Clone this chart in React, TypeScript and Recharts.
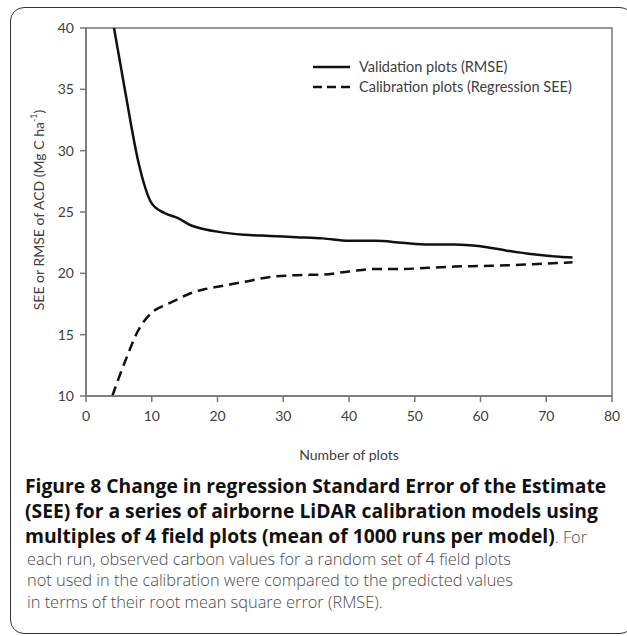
import React from "react";
import { LineChart, Line, XAxis, YAxis, ReferenceArea, Legend } from "recharts";

const plotCounts = [4, 6, 8, 10, 12, 14, 16, 18, 20, 24, 28, 32, 36, 40, 44, 48, 52, 56, 60, 64, 68, 72, 74];
const validationRMSE = [40.8, 34.7, 29.0, 25.7, 24.9, 24.5, 23.9, 23.6, 23.4, 23.15, 23.05, 22.95, 22.85, 22.65, 22.65, 22.5, 22.35, 22.35, 22.2, 21.85, 21.55, 21.35, 21.3];
const calibrationSEE = [10.0, 12.9, 15.4, 16.8, 17.4, 17.9, 18.4, 18.7, 18.9, 19.3, 19.7, 19.85, 19.9, 20.15, 20.35, 20.35, 20.45, 20.55, 20.6, 20.65, 20.75, 20.85, 20.9];
const xTicks = [0, 10, 20, 30, 40, 50, 60, 70, 80];
const yTicks = [10, 15, 20, 25, 30, 35, 40];
const seriesNames = ["Validation plots (RMSE)", "Calibration plots (Regression SEE)"];

const data = plotCounts.map((x, i) => ({ x, validation: validationRMSE[i], calibration: calibrationSEE[i] }));

const FONT = "Lato, 'Open Sans', sans-serif";
const TEXT = "#404040";

const YLabel = (props: any) => {
  const vb = props.viewBox || {};
  const cx = (vb.x ?? 0) + 38;
  const cy = (vb.y ?? 0) + (vb.height ?? 0) / 2 - 2;
  return (
    <text x={cx} y={cy} transform={`rotate(-90 ${cx} ${cy})`} textAnchor="middle" dominantBaseline="central" fontFamily={FONT} fontSize={14} fill={TEXT}>
      SEE or RMSE of ACD (Mg C ha<tspan fontSize={9} dy={-5}>-1</tspan><tspan dy={5}>)</tspan>
    </text>
  );
};

const LegendContent = () => (
  <div style={{ fontFamily: FONT, fontSize: 14.5, color: TEXT, lineHeight: "20px" }}>
    {seriesNames.map((n, i) => (
      <div key={n} style={{ display: "flex", alignItems: "center", height: 20 }}>
        <svg width={38} height={10} style={{ marginRight: 8 }}>
          <line x1={0} y1={5} x2={37} y2={5} stroke="#111" strokeWidth={2.5} strokeDasharray={i === 1 ? "9 5" : undefined} />
        </svg>
        <span>{n}</span>
      </div>
    ))}
  </div>
);

const boldLine: React.CSSProperties = { whiteSpace: "nowrap", height: 25, lineHeight: "25px", fontWeight: 700, color: "#111", fontSize: 19.3 };
const plainLine: React.CSSProperties = { whiteSpace: "nowrap", height: 21.7, lineHeight: "21.7px", fontWeight: 300, color: "#4a4a4a", fontSize: 16.4 };

export default function App() {
  return (
    <div style={{ position: "absolute", left: 0, top: 0, width: 627, height: 636, overflow: "hidden", background: "#fff" }}>
      <div style={{ position: "absolute", left: 10, top: 7, width: 624, height: 627, border: "1.5px solid #333", borderRadius: 14, boxSizing: "border-box" }} />
      <div style={{ position: "absolute", left: 0, top: 0 }}>
        <LineChart width={624} height={466} data={data} margin={{ top: 28, right: 12, left: 0, bottom: 0 }}>
          <XAxis
            dataKey="x"
            type="number"
            domain={[0, 80]}
            ticks={xTicks}
            interval={0}
            height={70}
            axisLine={{ stroke: "#777", strokeWidth: 1.5 }}
            tickLine={{ stroke: "#777", strokeWidth: 1.5 }}
            tickSize={6}
            tick={{ fontFamily: FONT, fontSize: 14, fill: TEXT }}
            tickMargin={9}
            label={{ value: "Number of plots", position: "insideBottom", offset: 6, style: { fontFamily: FONT, fontSize: 14, fill: TEXT } }}
          />
          <YAxis
            type="number"
            domain={[10, 40]}
            ticks={yTicks}
            interval={0}
            allowDataOverflow
            width={86}
            axisLine={{ stroke: "#777", strokeWidth: 1.5 }}
            tickLine={{ stroke: "#777", strokeWidth: 1.5 }}
            tickSize={6}
            tick={{ fontFamily: FONT, fontSize: 14, fill: TEXT }}
            tickMargin={6}
            label={<YLabel />}
          />
          <ReferenceArea x1={0} x2={80} y1={10} y2={40} fill="none" stroke="#777" strokeWidth={1.5} />
          <Legend content={<LegendContent />} layout="vertical" verticalAlign="middle" align="center" wrapperStyle={{ top: 57, left: 313, width: 290 }} />
          <Line dataKey="validation" name={seriesNames[0]} type="monotone" stroke="#111" strokeWidth={2.5} dot={false} isAnimationActive={false} />
          <Line dataKey="calibration" name={seriesNames[1]} type="monotone" stroke="#111" strokeWidth={2.5} strokeDasharray="10 6" dot={false} isAnimationActive={false} />
        </LineChart>
      </div>
      <div style={{ position: "absolute", left: 25, top: 472.5, fontFamily: "'Open Sans', sans-serif" }}>
        <div style={boldLine}>Figure 8 Change in regression Standard Error of the Estimate</div>
        <div style={boldLine}>(SEE) for a series of airborne LiDAR calibration models using</div>
        <div style={boldLine}>multiples of 4 field plots (mean of 1000 runs per model)<span style={{ fontWeight: 300, color: "#4a4a4a", fontSize: 16.4 }}>. For</span></div>
        <div style={{ ...plainLine, marginLeft: 2 }}>each run, observed carbon values for a random set of 4 field plots</div>
        <div style={{ ...plainLine, marginLeft: 2 }}>not used in the calibration were compared to the predicted values</div>
        <div style={{ ...plainLine, marginLeft: 2 }}>in terms of their root mean square error (RMSE).</div>
      </div>
    </div>
  );
}
